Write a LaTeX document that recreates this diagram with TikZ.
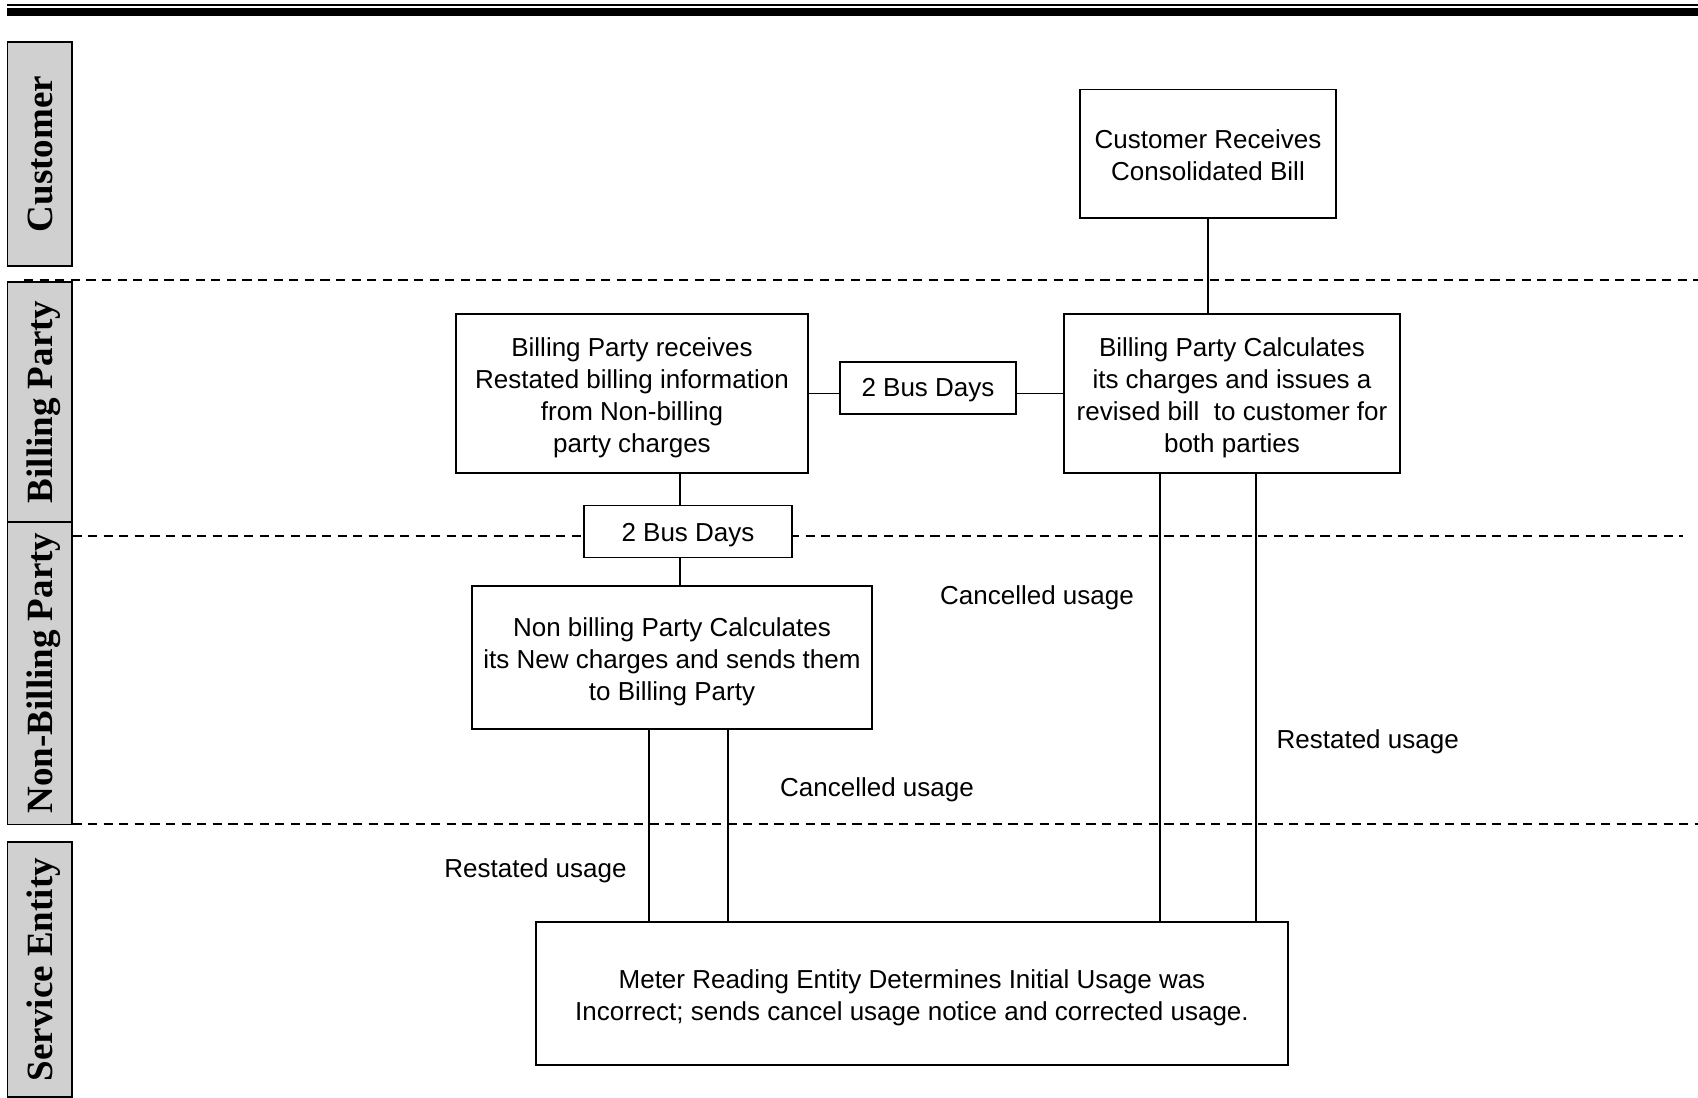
\documentclass[tikz,border=0pt]{standalone}
\usepackage{fontspec}
\setmainfont{Liberation Sans}
\newfontfamily\lanefont{Liberation Serif}
\usetikzlibrary{calc}
\definecolor{lanegray}{RGB}{208,208,208}
\begin{document}
\begin{tikzpicture}[x=0.5pt,y=-0.5pt,
  box/.style={draw, line width=0.75pt, fill=white, inner sep=0pt},
  boxtext/.style={align=center, inner sep=0pt, font=\fontsize{13}{16}\selectfont},
  conn/.style={line width=0.75pt},
  lanesep/.style={line width=0.65pt, dash pattern=on 4.6pt off 3.2pt},
  lanebox/.style={draw, line width=0.85pt, fill=lanegray},
  lanetext/.style={rotate=90, anchor=base, inner sep=0pt,
    font=\lanefont\bfseries\fontsize{18.5}{20}\selectfont}]
\useasboundingbox (0,0) rectangle (1698,1098);
% top rules
\fill (7.3,4) rectangle (1698,5.7);
\fill (7.3,8.3) rectangle (1698,15.7);
% lane label boxes
\draw[lanebox] (7.5,41.7) rectangle (72.3,266);
\draw[lanebox] (7.5,281.7) rectangle (72.3,522);
\draw[lanebox] (7.5,522) rectangle (72.3,824.5);
\draw[lanebox] (7.5,842) rectangle (72.3,1097);
\node[lanetext] (lcust) at (52,154) {Customer};
\node[lanetext] (lbill) at (52,402) {Billing Party};
\node[lanetext] (lnon) at (52,673) {Non-Billing Party};
\node[lanetext] (lserv) at (52,969.5) {Service Entity};
% lane separators
\coordinate (s1a) at (24,280);   \coordinate (s1b) at (1698,280);
\coordinate (s2a) at (72.3,536); \coordinate (s2b) at (1683,536);
\coordinate (s3a) at (72.3,824); \coordinate (s3b) at (1698,824);
\draw[lanesep] (s1a) -- (s1b);
\draw[lanesep] (s2a) -- (s2b);
\draw[lanesep] (s3a) -- (s3b);
% boxes
\node[box, minimum width=128pt, minimum height=64.25pt] (cust) at (1208,153.75) {};
\node[box, minimum width=176pt, minimum height=79.5pt] (bprec) at (632,393.5) {};
\node[box, minimum width=88pt, minimum height=26pt] (bd1) at (928,388) {};
\node[box, minimum width=168pt, minimum height=79.5pt] (bcalc) at (1232,393.5) {};
\node[box, minimum width=104pt, minimum height=26pt] (bd2) at (688,531.7) {};
\node[box, minimum width=200pt, minimum height=71.5pt] (nbp) at (672,657.5) {};
\node[box, minimum width=376pt, minimum height=71.5pt] (meter) at (912,993.5) {};
% box texts
\node[boxtext] (cust-t) at ([yshift=-0.8pt]cust.center)
  {Customer Receives\\Consolidated Bill};
\node[boxtext] (bprec-t) at ([yshift=-1.9pt]bprec.center)
  {Billing Party receives\\Restated billing information\\from Non-billing\\party charges};
\node[boxtext] (bd1-t) at ([yshift=-1.2pt]bd1.center) {2 Bus Days};
\node[boxtext] (bcalc-t) at ([yshift=-1.9pt]bcalc.center)
  {Billing Party Calculates\\its charges and issues a\\revised bill\ \ to customer for\\both parties};
\node[boxtext] (bd2-t) at ([yshift=-1.5pt]bd2.center) {2 Bus Days};
\node[boxtext] (nbp-t) at ([yshift=-1.9pt]nbp.center)
  {Non billing Party Calculates\\its New charges and sends them\\to Billing Party};
\node[boxtext] (meter-t) at ([yshift=-1.9pt]meter.center)
  {Meter Reading Entity Determines Initial Usage was\\Incorrect; sends cancel usage notice and corrected usage.};
% vertical guide coordinates
\coordinate (xa) at (680,0);
\coordinate (xb) at (649,0);
\coordinate (xc) at (728,0);
\coordinate (xd) at (1160,0);
\coordinate (xe) at (1256,0);
% connectors
\draw[conn] (cust.south) -- (cust.south |- bcalc.north);
\draw[conn] (bprec.east) -- (bprec.east -| bd1.west);
\draw[conn] (bd1.east |- bcalc.west) -- (bcalc.west);
\draw[conn] (xa |- bprec.south) -- (xa |- bd2.north);
\draw[conn] (xa |- bd2.south) -- (xa |- nbp.north);
\draw[conn] (xb |- nbp.south) -- (xb |- meter.north);
\draw[conn] (xc |- nbp.south) -- (xc |- meter.north);
\draw[conn] (xd |- bcalc.south) -- (xd |- meter.north);
\draw[conn] (xe |- bcalc.south) -- (xe |- meter.north);
% labels
\begin{scope}[every node/.style={inner sep=0pt, font=\fontsize{13}{16}\selectfont}]
\node (lab1) at (1037,598) {Cancelled usage};
\node (lab2) at (1367.7,742) {Restated usage};
\node (lab3) at (877,789.6) {Cancelled usage};
\node (lab4) at (535.5,871) {Restated usage};
\end{scope}
\end{tikzpicture}
\end{document}
